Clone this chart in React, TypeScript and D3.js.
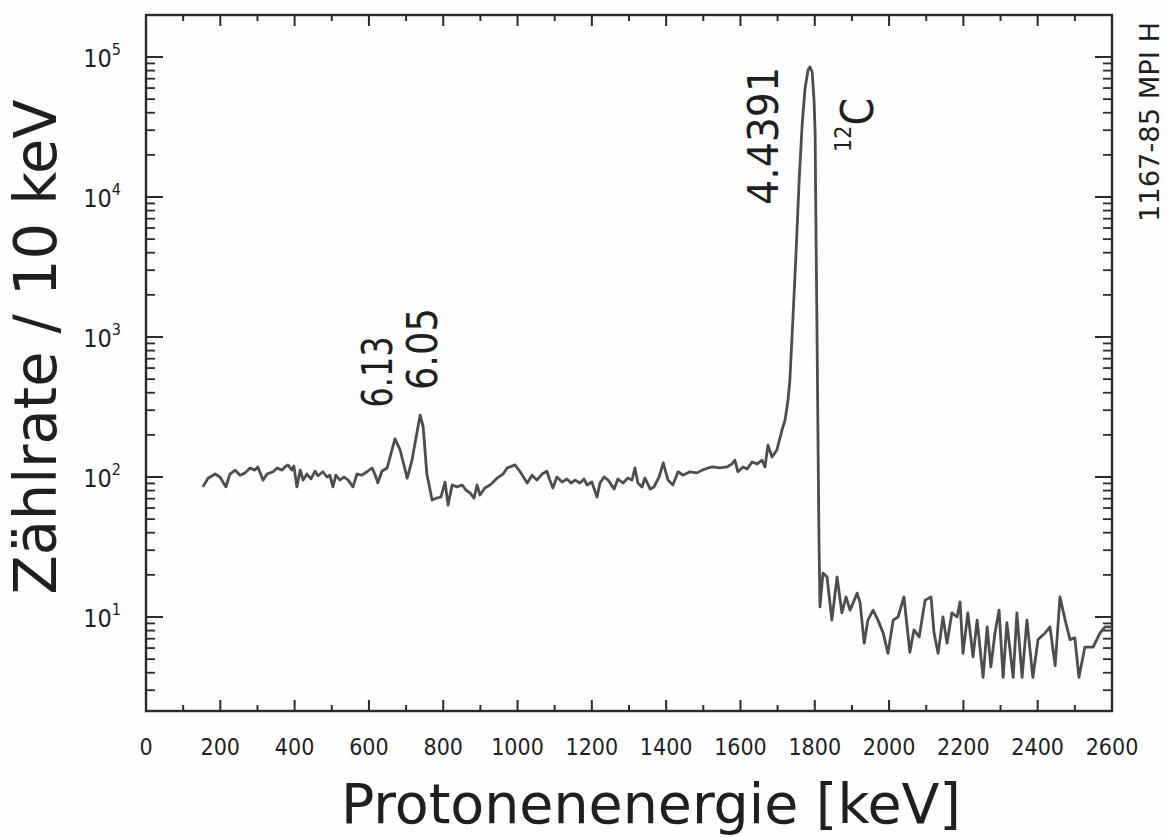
import React from 'react';
import * as d3 from 'd3';

// Spectrum: proton energy (keV) and count rate per 10 keV
const energies = [
  153, 167, 186, 199, 215, 226, 240, 253, 267, 280, 293, 301, 315, 326, 342, 353, 366, 374, 382, 393,
  398, 406, 415, 423, 433, 444, 455, 463, 476, 487, 495, 503, 511, 522, 533, 544, 557, 568, 581, 595,
  608, 616, 624, 635, 649, 657, 670, 684, 703, 716, 729, 738, 746, 756, 770, 783, 794, 805, 813, 824,
  837, 851, 861, 872, 883, 891, 899, 912, 926, 945, 961, 972, 993, 1007, 1026, 1039, 1052, 1066, 1079, 1087,
  1095, 1106, 1120, 1133, 1144, 1155, 1168, 1179, 1187, 1200, 1214, 1222, 1233, 1244, 1260, 1270, 1284, 1297, 1308, 1316,
  1324, 1335, 1343, 1357, 1367, 1381, 1392, 1405, 1418, 1432, 1445, 1464, 1483, 1497, 1513, 1526, 1545, 1564, 1577, 1585,
  1593, 1607, 1618, 1631, 1645, 1658, 1666, 1674, 1685, 1698, 1712, 1720, 1728, 1733, 1741, 1750, 1758, 1766, 1774, 1782,
  1787, 1793, 1798, 1801, 1803, 1806, 1809, 1811, 1814, 1822, 1833, 1846, 1860, 1873, 1884, 1895, 1914, 1922, 1933, 1943,
  1957, 1970, 1984, 1997, 2011, 2024, 2040, 2056, 2067, 2081, 2097, 2113, 2121, 2132, 2145, 2156, 2169, 2183, 2191, 2199,
  2212, 2226, 2237, 2253, 2264, 2274, 2285, 2296, 2307, 2317, 2334, 2344, 2358, 2371, 2387, 2401, 2420, 2433, 2447, 2460,
  2474, 2487, 2500, 2511, 2527, 2549, 2568, 2581, 2600,
];
const counts = [
  85, 98, 105, 100, 85, 105, 112, 103, 107, 116, 112, 118, 95, 105, 109, 116, 112, 118, 122, 112,
  120, 85, 112, 95, 105, 97, 110, 102, 109, 100, 103, 85, 103, 95, 100, 95, 85, 105, 103, 109,
  116, 105, 91, 110, 116, 139, 187, 156, 98, 132, 206, 277, 228, 105, 68.5, 70.8, 72, 92, 63, 87.7,
  85, 87.7, 80.7, 76.9, 70.8, 87.7, 74.4, 83.4, 87.7, 98, 105, 116, 122, 109, 90.6, 103, 95, 105, 110, 95,
  83.4, 100, 92, 96.7, 90.6, 95, 90.6, 96.7, 87.7, 92, 72, 90.6, 100, 95, 82, 96.7, 90.6, 98.4, 95, 116,
  90.6, 84.8, 98.4, 82, 84.8, 100, 126, 95, 87.7, 109, 103, 109, 107, 112, 116, 118, 116, 118, 124, 132,
  109, 118, 114, 128, 124, 132, 118, 169, 139, 156, 217, 255, 355, 493, 1322, 4180, 13230, 32700, 60100, 80700,
  84800, 78100, 49300, 28700, 6850, 1120, 155, 42, 11.8, 20.6, 19.3, 9.5, 19.3, 10.7, 13.9, 11.2, 14.8, 12.6, 6.5, 9.5,
  11.2, 9.5, 7.7, 5.5, 9.5, 10, 13.9, 5.6, 8.1, 7.2, 13.2, 13.9, 7.7, 5.5, 10, 6.5, 10.7, 10, 12.8, 5.5,
  10.7, 5.2, 9.5, 3.7, 8.5, 4.4, 7.7, 11.2, 3.7, 9.1, 3.7, 10.7, 3.7, 9.5, 3.7, 6.9, 7.7, 8.5, 4.5, 13.9,
  9.5, 6.9, 7.1, 3.7, 6.1, 6.1, 7.7, 8.5, 8.5,
];

const xTickLabels = [0, 200, 400, 600, 800, 1000, 1200, 1400, 1600, 1800, 2000, 2200, 2400, 2600];
const xMinorTicks = d3.range(0, 2601, 100);
const yDecades = [1, 2, 3, 4, 5];

// Peak annotations: anchor energy (baseline of rotated text) and count level (text centre)
const peakLabels = [
  { text: '6.13', e: 662, v: 562, len: 71 },
  { text: '6.05', e: 783, v: 820, len: 82 },
  { text: '4.4391', e: 1701, v: 27300, len: 138 },
];

const W = 1167;
const H = 838;
const L = 146, R = 1112, T = 15, B = 711;
const INK = '#1f1f1f';
const FONT = "'DejaVu Sans Condensed', 'DejaVu Sans', sans-serif";

export default function App() {
  const x = d3.scaleLinear().domain([0, 2600]).range([L, R]);
  const y = d3.scaleLog().domain([Math.pow(10, 0.3286), Math.pow(10, 5.3)]).range([B, T]);
  const line = d3
    .line<number>()
    .x((_, i) => x(energies[i]))
    .y((d) => y(d));

  const yMinor: number[] = [];
  for (let d = 0; d <= 5; d++) {
    for (let k = 2; k <= 9; k++) {
      const v = k * Math.pow(10, d);
      const [lo, hi] = y.domain();
      if (v > lo && v < hi) yMinor.push(v);
    }
  }

  return (
    <svg
      width={W}
      height={H}
      viewBox={`0 0 ${W} ${H}`}
      style={{ position: 'absolute', left: 0, top: 0, background: '#fff' }}
    >
      <rect x={0} y={0} width={W} height={H} fill="#fefefe" />
      {/* frame */}
      <rect x={L} y={T} width={R - L} height={B - T} fill="none" stroke="#2a2a2a" strokeWidth={2.4} />

      {/* x ticks bottom and top */}
      {xMinorTicks.map((v) => {
        const major = v % 200 === 0;
        const len = major ? 11 : 6;
        return (
          <g key={'xt' + v} stroke="#2a2a2a" strokeWidth={2}>
            <line x1={x(v)} x2={x(v)} y1={B} y2={B - len} />
            <line x1={x(v)} x2={x(v)} y1={T} y2={T + len} />
          </g>
        );
      })}

      {/* y ticks left and right */}
      {yDecades.map((d) => {
        const v = Math.pow(10, d);
        return (
          <g key={'yM' + d} stroke="#2a2a2a" strokeWidth={2}>
            <line x1={L} x2={L + 17} y1={y(v)} y2={y(v)} />
            <line x1={R} x2={R - 17} y1={y(v)} y2={y(v)} />
          </g>
        );
      })}
      {yMinor.map((v) => (
        <g key={'ym' + v} stroke="#2a2a2a" strokeWidth={1.8}>
          <line x1={L} x2={L + 9} y1={y(v)} y2={y(v)} />
          <line x1={R} x2={R - 9} y1={y(v)} y2={y(v)} />
        </g>
      ))}

      {/* x tick labels */}
      {xTickLabels.map((v) => (
        <text
          key={'xl' + v}
          x={x(v)}
          y={755}
          textAnchor="middle"
          fontFamily={FONT}
          fontSize={23}
          fill={INK}
        >
          {v}
        </text>
      ))}

      {/* y tick labels */}
      {yDecades.map((d) => (
        <text
          key={'yl' + d}
          x={121}
          y={y(Math.pow(10, d)) + 10}
          textAnchor="end"
          fontFamily={FONT}
          fontSize={25}
          fill={INK}
        >
          10
          <tspan dy={-12} fontSize={16}>
            {d}
          </tspan>
        </text>
      ))}

      {/* spectrum */}
      <path d={line(counts) || ''} fill="none" stroke="#4d4d4d" strokeWidth={2.8} strokeLinejoin="round" />

      {/* peak labels */}
      {peakLabels.map((p) => {
        const px = x(p.e);
        const py = y(p.v);
        return (
          <text
            key={p.text}
            transform={`translate(${px},${py}) rotate(-90)`}
            textAnchor="middle"
            fontFamily={FONT}
            fontSize={42}
            fill={INK}
            textLength={p.len}
            lengthAdjust="spacingAndGlyphs"
          >
            {p.text}
          </text>
        );
      })}
      <text
        transform={`translate(${x(1957)},${y(32700)}) rotate(-90)`}
        textAnchor="middle"
        fontFamily={FONT}
        fontSize={44}
        fill={INK}
      >
        <tspan fontSize={23} dy={-22}>12</tspan>
        <tspan dy={22}>C</tspan>
      </text>

      {/* side stamp */}
      <text
        transform={`translate(1159,122) rotate(-90)`}
        textAnchor="middle"
        fontFamily={FONT}
        fontSize={26}
        fill={INK}
        textLength={200}
        lengthAdjust="spacingAndGlyphs"
      >
        1167-85 MPI H
      </text>

      {/* axis titles */}
      <text
        transform={`translate(56,347) rotate(-90)`}
        textAnchor="middle"
        fontFamily={FONT}
        fontSize={58}
        fill={INK}
        textLength={495}
        lengthAdjust="spacingAndGlyphs"
      >
        Zählrate / 10 keV
      </text>
      <text
        x={651}
        y={823}
        textAnchor="middle"
        fontFamily={FONT}
        fontSize={56}
        fill={INK}
        textLength={620}
        lengthAdjust="spacingAndGlyphs"
      >
        Protonenenergie [keV]
      </text>
    </svg>
  );
}
